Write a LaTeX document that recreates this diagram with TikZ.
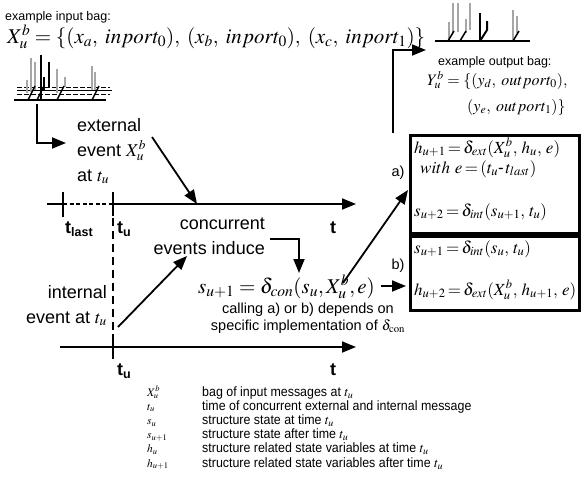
\documentclass[tikz,border=0pt]{standalone}
\usepackage{mathptmx}
\usepackage[no-math]{fontspec}
\setmainfont{Liberation Sans}
\newfontfamily\legfont[FakeStretch=0.92]{Liberation Sans}
\usetikzlibrary{arrows.meta}
\newcommand\boxmath[1]{$\thickmuskip=2.5mu\relax\medmuskip=2mu\relax #1$}
\begin{document}
\begin{tikzpicture}[x=1pt,y=-1pt,
  conn/.style={line width=1.8pt,-{Triangle[length=14pt,width=11pt]}},
  ln/.style={line width=1.8pt},
  lbl/.style={font=\fontsize{18}{25}\selectfont,inner sep=0pt},
  smalltxt/.style={font=\fontsize{12.5}{15}\selectfont,inner sep=0pt},
  midtxt/.style={font=\fontsize{14.5}{17}\selectfont,inner sep=0pt},
  legtxt/.style={font=\legfont\fontsize{13.5}{15}\selectfont,inner sep=0pt,anchor=base west},
  legsym/.style={font=\fontsize{11.5}{14}\selectfont,inner sep=0pt,anchor=base west},
  boxtxt/.style={font=\fontsize{17}{22}\selectfont,inner sep=0pt,anchor=base west},
  tlbl/.style={font=\fontsize{18}{22}\selectfont\bfseries,inner sep=0pt,anchor=base west},
  bx/.style={draw,line width=2.5pt,inner sep=0pt,anchor=north west},
  gbar/.style={draw=black!35,line width=2pt},
  kbar/.style={draw=black,line width=2pt}
]
\useasboundingbox (0,0) rectangle (581,490);

% ---------- input bag ----------
\node[smalltxt,anchor=base west] (inlbl) at (5,20) {example input bag:};
\node[inner sep=0pt,anchor=base west,font=\fontsize{21}{24}\selectfont] (inform) at (7,43)
  {$X_u^b=\{(x_a,\;inport_0),\;(x_b,\;inport_0),\;(x_c,\;inport_1)\}$};
\draw[line width=1.5pt] (14,100) -- (106,100);
\draw[line width=1.2pt] (17,90.5) -- (112,90.5);
\draw[line width=1pt,dash pattern=on 5pt off 2pt] (17,87) -- (110,87);
\draw[line width=1pt,dash pattern=on 5pt off 2pt] (17,94) -- (110,94);
\foreach \x/\a/\b in {27/80/93,31/58/92,35/62/90,57/69/93,65/77/87,92/66/90,95/72/90}
  \draw[gbar] (\x,\a) -- (\x,\b);
\foreach \x/\a/\b in {41/55/100,44/77/90,49/62/87}
  \draw[kbar] (\x,\a) -- (\x,\b);
\foreach \x in {28,37,57,92}
  \draw[line width=1.5pt] (\x,100) -- ({\x+7},86);

% ---------- output bag ----------
\draw[line width=1.8pt] (435,41) -- (530,41);
\foreach \x/\a/\b in {449/22/40,453/3/33,458/3/32,466/19/33,470/3/30,513/10/40,517/16/33}
  \draw[gbar] (\x,\a) -- (\x,\b);
\foreach \x in {448,460,513}
  \draw[line width=1.5pt] (\x,41) -- ({\x+6},31);
\draw[kbar] (480,13) -- (480,41);
\draw[kbar] (480,41) -- (487,30) -- (487,21);
\node[smalltxt,anchor=base west] (outlbl) at (438,65) {example output bag:};
\node[inner sep=0pt,anchor=base west,font=\fontsize{16}{20}\selectfont] (outf1) at (427,85)
  {$Y_u^b=\{(y_d,\;outport_0),$};
\node[inner sep=0pt,anchor=base west,font=\fontsize{16}{20}\selectfont] (outf2) at (467,111)
  {$(y_e,\;outport_1)\}$};

% ---------- arrows from bags ----------
\coordinate (bagout) at (37,104);
\coordinate (exttip) at (66,143);
\draw[conn] (bagout) |- (exttip);
\coordinate (brS) at (393,133);
\coordinate (brT) at (426,50);
\draw[conn] (brS) |- (brT);

% ---------- labels ----------
\node[lbl,align=left,anchor=north west] (ext) at (77,118)
  {external\\event $X_u^b$\\at $t_u$};
\node[lbl,align=right,anchor=north east] (conc) at (265,218)
  {concurrent\\events induce};
\node[lbl,align=right,anchor=north east] (intl) at (107,285)
  {internal\\event at $t_u$};

% ---------- time lines ----------
\coordinate (l1a) at (47,204);
\coordinate (tlast) at (63,204);
\coordinate (tu1) at (113,204);
\coordinate (l1e) at (356,204);
\draw[ln] (l1a) -- (tlast);
\draw[line width=1.6pt,dash pattern=on 4pt off 2.5pt] (tlast) -- (tu1);
\draw[conn] (tu1) -- (l1e);
\draw[ln] (63,192) -- (63,217);
\draw[ln] (113,192) -- (113,216);
\coordinate (l2a) at (60,347);
\coordinate (tu2) at (113,347);
\coordinate (l2e) at (356,347);
\draw[conn] (l2a) -- (l2e);
\draw[ln] (113,334) -- (113,359);
\draw[line width=1.8pt,dash pattern=on 8pt off 5pt] (113,218) -- (113,333);

\node[tlbl] (tlastl) at (65,233) {t\raisebox{-3.5pt}{\fontsize{12.5}{12}\selectfont last}};
\node[tlbl] (tul1) at (117,233) {t\raisebox{-3.5pt}{\fontsize{12.5}{12}\selectfont u}};
\node[tlbl] (tl1) at (330,233) {t};
\node[tlbl] (tul2) at (117,375) {t\raisebox{-3.5pt}{\fontsize{12.5}{12}\selectfont u}};
\node[tlbl] (tl2) at (330,375) {t};

% ---------- event arrows ----------
\coordinate (extS) at (152,137);
\coordinate (extE) at (197,204);
\draw[conn] (extS) -- (extE);
\coordinate (intS) at (118,327);
\coordinate (intE) at (187,256);
\draw[conn] (intS) -- (intE);
\coordinate (indS) at (270,239);
\coordinate (indE) at (299,273);
\draw[conn] (indS) -| (indE);

% ---------- delta_con ----------
\node[inner sep=0pt,anchor=base west,font=\fontsize{21}{24}\selectfont] (dcon) at (198,293)
  {$s_{u+1}=\delta_{con}(s_u,X_u^b,e)$};
\node[midtxt,align=center] (call) at (308,318)
  {calling a) or b) depends on\\specific implementation of $\delta_{\mathrm{con}}$};

% ---------- boxes ----------
\node[bx,minimum width=169pt,minimum height=98pt] (boxa) at (409,134) {};
\node[bx,minimum width=169pt,minimum height=74pt] (boxb) at (409,235) {};
\node[boxtxt] (a1) at (414,153) {\boxmath{h_{u+1}=\delta_{ext}(X_u^b,\;h_u,\;e)}};
\node[boxtxt] (a2) at (420,173) {\boxmath{with\ e=(t_u\mbox{-}\,t_{last})}};
\node[boxtxt] (a3) at (414,216) {\boxmath{s_{u+2}=\delta_{int}(s_{u+1},\;t_u)}};
\node[boxtxt] (b1) at (414,253) {\boxmath{s_{u+1}=\delta_{int}(s_u,\;t_u)}};
\node[boxtxt] (b2) at (414,295) {\boxmath{h_{u+2}=\delta_{ext}(X_u^b,\;h_{u+1},\;e)}};

\coordinate (aS) at (343,283);
\coordinate (aE) at (408,190);
\draw[conn] (aS) -- (aE);
\coordinate (bS) at (381,286);
\coordinate (bE) at (406,286);
\draw[conn] (bS) -- (bE);
\node[midtxt] (alab) at (398,173) {a)};
\node[midtxt] (blab) at (398,266) {b)};

% ---------- legend ----------
\node[legsym] (s1) at (147,396) {$X_u^b$};
\node[legsym] (s2) at (147,410) {$t_u$};
\node[legsym] (s3) at (147,424.5) {$s_u$};
\node[legsym] (s4) at (147,438.5) {$s_{u+1}$};
\node[legsym] (s5) at (147,452.5) {$h_u$};
\node[legsym] (s6) at (147,467) {$h_{u+1}$};
\node[legtxt] (d1) at (202,396) {bag of input messages at $t_u$};
\node[legtxt] (d2) at (202,410) {time of concurrent external and internal message};
\node[legtxt] (d3) at (202,424.5) {structure state at time $t_u$};
\node[legtxt] (d4) at (202,438.5) {structure state after time $t_u$};
\node[legtxt] (d5) at (202,452.5) {structure related state variables at time $t_u$};
\node[legtxt] (d6) at (202,467) {structure related state variables after time $t_u$};
\end{tikzpicture}
\end{document}
